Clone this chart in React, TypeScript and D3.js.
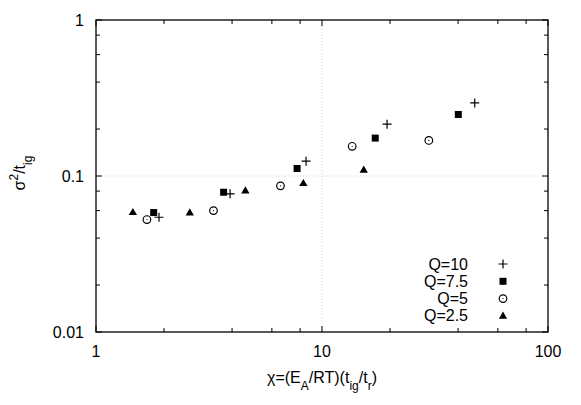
import * as d3 from "d3"

const xTicks = [1, 10, 100]
const yTicks = [1, 0.1, 0.01]
const xTickLabels = ["1", "10", "100"]
const yTickLabels = ["1", "0.1", "0.01"]

const seriesNames = ["Q=10", "Q=7.5", "Q=5", "Q=2.5"]
const q10X = [1.9, 3.92, 8.5, 19.4, 47.4]
const q10Y = [0.0544, 0.0769, 0.1244, 0.215, 0.294]
const q75X = [1.8, 3.67, 7.76, 17.2, 40.1]
const q75Y = [0.0583, 0.0787, 0.1117, 0.175, 0.248]
const q5X = [1.68, 3.31, 6.55, 13.6, 29.7]
const q5Y = [0.0526, 0.06, 0.0865, 0.155, 0.169]
const q25X = [1.456, 2.6, 4.58, 8.27, 15.3]
const q25Y = [0.0586, 0.0583, 0.0807, 0.0899, 0.1096]

const W = 581
const H = 405
const margin = { top: 20, right: 33, bottom: 73, left: 96 }
const font = "'Liberation Sans', Arial, Helvetica, sans-serif"

type Kind = "plus" | "square" | "circle" | "triangle"

function Marker({ kind, x, y }: { kind: Kind; x: number; y: number }) {
  if (kind === "plus")
    return (
      <path
        d={`M${x - 4.5},${y}H${x + 4.5}M${x},${y - 4.5}V${y + 4.5}`}
        stroke="#000"
        strokeWidth={1.2}
      />
    )
  if (kind === "square") return <rect x={x - 3.5} y={y - 3.5} width={7} height={7} fill="#000" />
  if (kind === "circle")
    return (
      <g>
        <circle cx={x} cy={y} r={3.8} fill="none" stroke="#000" strokeWidth={1.2} />
        <circle cx={x} cy={y} r={0.6} fill="#000" />
      </g>
    )
  const tri = d3.symbol().type(d3.symbolTriangle).size(30)()
  return <path d={tri ?? ""} transform={`translate(${x},${y + 0.5})`} fill="#000" />
}

export default function App() {
  const x0 = margin.left
  const x1 = W - margin.right
  const y0 = margin.top
  const y1 = H - margin.bottom

  const xScale = d3.scaleLog().domain([1, 100]).range([x0, x1])
  const yScale = d3.scaleLog().domain([0.01, 1]).range([y1, y0])

  const xMinor = [2, 4, 6, 8, 20, 40, 60, 80]
  const yMinor = [0.02, 0.04, 0.06, 0.08, 0.2, 0.4, 0.6, 0.8]

  const series: { name: string; kind: Kind; xs: number[]; ys: number[] }[] = [
    { name: seriesNames[0], kind: "plus", xs: q10X, ys: q10Y },
    { name: seriesNames[1], kind: "square", xs: q75X, ys: q75Y },
    { name: seriesNames[2], kind: "circle", xs: q5X, ys: q5Y },
    { name: seriesNames[3], kind: "triangle", xs: q25X, ys: q25Y },
  ]

  const major = 6
  const minor = 4

  return (
    <div style={{ position: "absolute", left: 0, top: 0 }}>
      <svg width={W} height={H} style={{ display: "block", background: "#fff" }} fontFamily={font}>
        {/* grid at inner majors */}
        <line
          x1={xScale(10)}
          x2={xScale(10)}
          y1={y0}
          y2={y1}
          stroke="#c8c8c8"
          strokeWidth={0.8}
          strokeDasharray="1,2"
        />
        <line
          x1={x0}
          x2={x1}
          y1={yScale(0.1)}
          y2={yScale(0.1)}
          stroke="#c8c8c8"
          strokeWidth={0.8}
          strokeDasharray="1,2"
        />

        {/* ticks, mirrored on all sides */}
        <g stroke="#000" strokeWidth={1}>
          {xTicks.map((t) => (
            <g key={"xt" + t}>
              <line x1={xScale(t)} x2={xScale(t)} y1={y1} y2={y1 - major} />
              <line x1={xScale(t)} x2={xScale(t)} y1={y0} y2={y0 + major} />
            </g>
          ))}
          {xMinor.map((t) => (
            <g key={"xm" + t}>
              <line x1={xScale(t)} x2={xScale(t)} y1={y1} y2={y1 - minor} />
              <line x1={xScale(t)} x2={xScale(t)} y1={y0} y2={y0 + minor} />
            </g>
          ))}
          {yTicks.map((t) => (
            <g key={"yt" + t}>
              <line x1={x0} x2={x0 + major} y1={yScale(t)} y2={yScale(t)} />
              <line x1={x1} x2={x1 - major} y1={yScale(t)} y2={yScale(t)} />
            </g>
          ))}
          {yMinor.map((t) => (
            <g key={"ym" + t}>
              <line x1={x0} x2={x0 + minor} y1={yScale(t)} y2={yScale(t)} />
              <line x1={x1} x2={x1 - minor} y1={yScale(t)} y2={yScale(t)} />
            </g>
          ))}
        </g>

        <rect x={x0} y={y0} width={x1 - x0} height={y1 - y0} fill="none" stroke="#000" strokeWidth={1.3} />

        {/* tick labels */}
        {xTicks.map((t, i) => (
          <text key={"xl" + t} x={xScale(t)} y={y1 + 25} fontSize={16} textAnchor="middle">
            {xTickLabels[i]}
          </text>
        ))}
        {yTicks.map((t, i) => (
          <text key={"yl" + t} x={x0 - 12} y={yScale(t) + 6} fontSize={16} textAnchor="end">
            {yTickLabels[i]}
          </text>
        ))}

        {/* axis titles */}
        <text x={(x0 + x1) / 2} y={y1 + 51} fontSize={16} textAnchor="middle">
          χ=(E<tspan baselineShift="sub" fontSize={12}>A</tspan>
          /RT)(t<tspan baselineShift="sub" fontSize={12}>ig</tspan>
          /t<tspan baselineShift="sub" fontSize={12}>r</tspan>)
        </text>
        <text
          transform={`translate(${25},${(y0 + y1) / 2 - 3}) rotate(-90)`}
          fontSize={16}
          textAnchor="middle"
        >
          σ<tspan baselineShift="super" fontSize={12}>2</tspan>
          /t<tspan baselineShift="sub" fontSize={12}>ig</tspan>
        </text>

        {/* points */}
        {series.map((s) =>
          s.xs.map((v, i) => (
            <Marker key={s.name + i} kind={s.kind} x={xScale(v)} y={yScale(s.ys[i])} />
          )),
        )}

        {/* legend */}
        {series.map((s, i) => (
          <g key={"lg" + s.name}>
            <text x={468} y={264 + i * 17.3 + 5.5} fontSize={16} textAnchor="end">
              {s.name}
            </text>
            <Marker kind={s.kind} x={503} y={264 + i * 17.3} />
          </g>
        ))}
      </svg>
    </div>
  )
}
